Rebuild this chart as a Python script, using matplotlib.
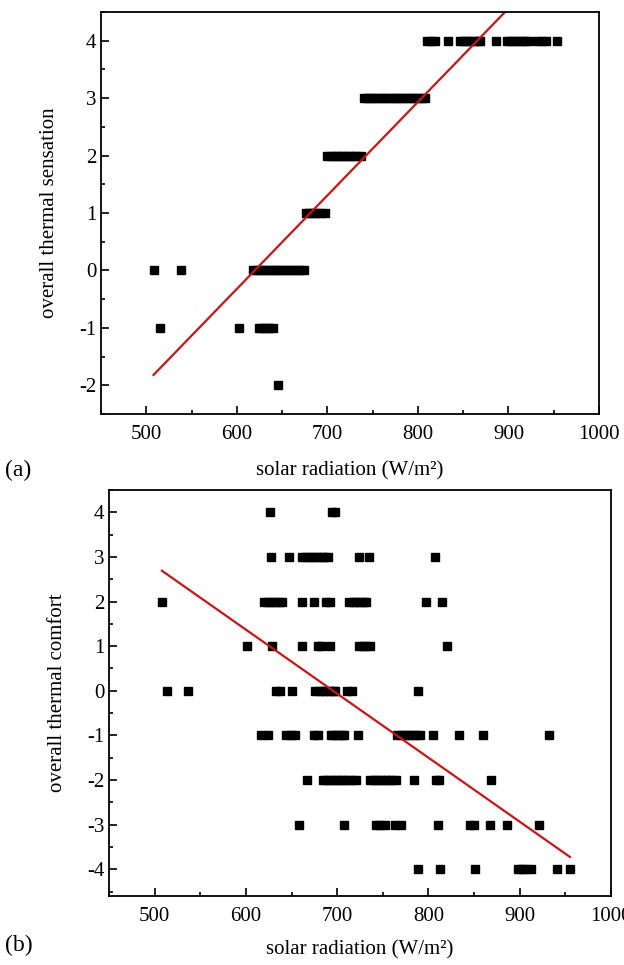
import matplotlib
matplotlib.use("Agg")
import matplotlib.pyplot as plt
import numpy as np
from matplotlib.ticker import MultipleLocator

plt.rcParams['font.family'] = ['Liberation Serif', 'DejaVu Serif']
plt.rcParams['axes.unicode_minus'] = False

# ---------------- chart (a): overall thermal sensation ----------------
a_x_p4 = [810, 814, 819, 833, 846, 850, 854, 858, 862, 866, 869, 886,
          898, 902, 906, 910, 914, 918, 922, 932, 937, 942, 954]
a_x_p3 = [740, 744, 748, 752, 756, 760, 764, 768, 772, 776, 780, 784,
          788, 792, 796, 800, 804, 808]
a_x_p2 = [700, 704, 708, 712, 716, 720, 724, 728, 732, 737]
a_x_p1 = [676, 680, 684, 688, 692, 697]
a_x_0 = [509, 538, 618, 622, 626, 630, 634, 638, 642, 646, 650, 654,
         658, 662, 666, 670, 674]
a_x_m1 = [515, 602, 624, 628, 632, 636, 640]
a_x_m2 = [645]
a_levels = [4, 3, 2, 1, 0, -1, -2]
a_fit_slope = 0.01628
a_fit_intercept = -10.09
a_fit_range = [508, 956]

# ---------------- chart (b): overall thermal comfort ----------------
b_x_p4 = [626, 694, 698]
b_x_p3 = [627, 647, 662, 666, 670, 674, 678, 682, 686, 690, 724, 735, 807]
b_x_p2 = [508, 620, 624, 628, 632, 636, 639, 661, 675, 688, 692,
          713, 717, 721, 725, 729, 732, 797, 815]
b_x_p1 = [601, 629, 661, 679, 682, 692, 724, 728, 732, 736, 820]
b_x_0 = [513, 537, 633, 637, 651, 676, 680, 684, 688, 692, 696, 698,
         711, 716, 788]
b_x_m1 = [617, 624, 644, 649, 654, 675, 679, 693, 697, 701, 705, 708,
          723, 766, 770, 774, 778, 782, 786, 791, 805, 833, 860, 932]
b_x_m2 = [667, 684, 688, 692, 696, 700, 704, 708, 712, 716, 721, 736,
          740, 744, 748, 752, 756, 760, 764, 784, 808, 812, 869]
b_x_m3 = [658, 707, 742, 747, 752, 763, 770, 810, 845, 850, 867, 886, 921]
b_x_m4 = [788, 813, 851, 898, 902, 906, 912, 941, 955]
b_levels = [4, 3, 2, 1, 0, -1, -2, -3, -4]
b_fit_slope = -0.01435
b_fit_intercept = 9.98
b_fit_range = [508, 955]

xlabel = "solar radiation (W/m²)"

fig = plt.figure(figsize=(6.24, 9.65), dpi=100)

def style(ax, ylim, yticks):
    ax.set_xlim(450, 1000)
    ax.set_ylim(*ylim)
    ax.set_xticks([500, 600, 700, 800, 900, 1000])
    ax.xaxis.set_minor_locator(MultipleLocator(50))
    ax.set_yticks(yticks)
    ax.yaxis.set_minor_locator(MultipleLocator(0.5))
    ax.tick_params(which='both', direction='in', top=False, right=False,
                   labelsize=15, width=1.2)
    ax.tick_params(which='major', length=6)
    ax.tick_params(which='minor', length=3)
    ax.tick_params(axis='x', pad=8)
    for s in ax.spines.values():
        s.set_linewidth(1.3)

def draw(ax, groups, levels, slope, intercept, frange):
    for xs, lv in zip(groups, levels):
        ax.plot(xs, [lv] * len(xs), linestyle='none', marker='s',
                markersize=6, color='black')
    fx = np.array(frange, dtype=float)
    ax.plot(fx, slope * fx + intercept, color='#cc1414', linewidth=1.6)

# top axes
ax1 = fig.add_axes([101/624, 1-414/965, (599-101)/624, (414-12)/965])
draw(ax1, [a_x_p4, a_x_p3, a_x_p2, a_x_p1, a_x_0, a_x_m1, a_x_m2], a_levels,
     a_fit_slope, a_fit_intercept, a_fit_range)
style(ax1, (-2.5, 4.5), [-2, -1, 0, 1, 2, 3, 4])
ax1.set_xlabel(xlabel, fontsize=15, labelpad=12)
ax1.set_ylabel("overall thermal sensation", fontsize=15, labelpad=14)

# bottom axes
ax2 = fig.add_axes([109/624, 1-896/965, (611-109)/624, (896-490)/965])
draw(ax2, [b_x_p4, b_x_p3, b_x_p2, b_x_p1, b_x_0, b_x_m1, b_x_m2, b_x_m3, b_x_m4],
     b_levels, b_fit_slope, b_fit_intercept, b_fit_range)
style(ax2, (-4.6, 4.5), [-4, -3, -2, -1, 0, 1, 2, 3, 4])
ax2.set_xlabel(xlabel, fontsize=15, labelpad=10)
ax2.set_ylabel("overall thermal comfort", fontsize=15, labelpad=14)

fig.text(5/624, 1-470/965, "(a)", fontsize=17, va='center', ha='left')
fig.text(5/624, 1-945/965, "(b)", fontsize=17, va='center', ha='left')

fig.savefig("out.png", dpi=100)
